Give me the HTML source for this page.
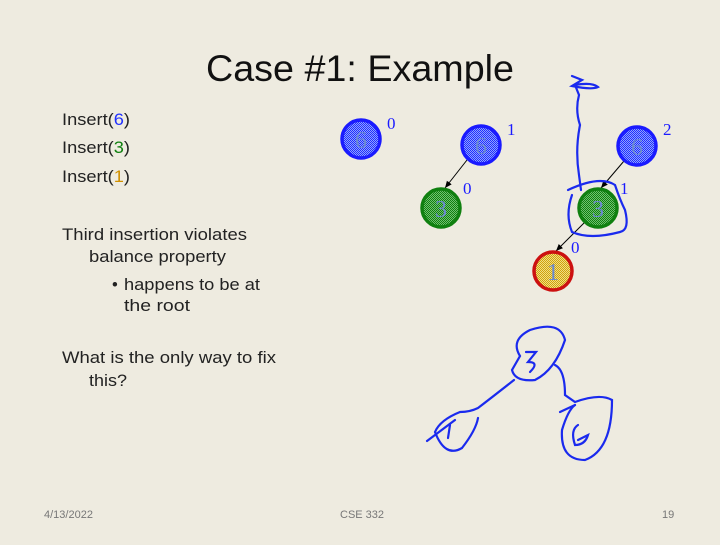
<!DOCTYPE html>
<html><head><style>
body{margin:0;width:720px;height:540px;background:#eeebe0;overflow:hidden;font-family:"Liberation Sans",sans-serif;}
</style></head><body>
<svg width="720" height="540" xmlns="http://www.w3.org/2000/svg">
<defs>
<pattern id="pb" width="2" height="2" patternUnits="userSpaceOnUse"><rect width="2" height="2" fill="#8fa0ff"/><rect width="1" height="1" fill="#2030ff"/><rect x="1" y="1" width="1" height="1" fill="#2030ff"/></pattern>
<pattern id="pg" width="2" height="2" patternUnits="userSpaceOnUse"><rect width="2" height="2" fill="#70c070"/><rect width="1" height="1" fill="#108010"/><rect x="1" y="1" width="1" height="1" fill="#108010"/></pattern>
<pattern id="py" width="2" height="2" patternUnits="userSpaceOnUse"><rect width="2" height="2" fill="#f0e080"/><rect width="1" height="1" fill="#d0a010"/><rect x="1" y="1" width="1" height="1" fill="#d0a010"/></pattern>
<marker id="a" markerWidth="8" markerHeight="8" refX="7" refY="4" orient="auto"><path d="M0,1 L7,4 L0,7 z" fill="#000"/></marker>
</defs>
<rect width="720" height="540" fill="#eeebe0"/>
<text x="360" y="81" font-size="37" text-anchor="middle" fill="#111" textLength="308" lengthAdjust="spacingAndGlyphs">Case #1: Example</text>
<g font-size="16.5" fill="#222">
<text x="62" y="125" textLength="68" lengthAdjust="spacingAndGlyphs">Insert(<tspan fill="#2030ff">6</tspan>)</text>
<text x="62" y="153" textLength="68" lengthAdjust="spacingAndGlyphs">Insert(<tspan fill="#108010">3</tspan>)</text>
<text x="62" y="182" textLength="68" lengthAdjust="spacingAndGlyphs">Insert(<tspan fill="#d09000">1</tspan>)</text>
<text x="62" y="240" textLength="185" lengthAdjust="spacingAndGlyphs">Third insertion violates</text>
<text x="89" y="262" textLength="137" lengthAdjust="spacingAndGlyphs">balance property</text>
<text x="112" y="290">•</text>
<text x="124" y="290" textLength="136" lengthAdjust="spacingAndGlyphs">happens to be at</text>
<text x="124" y="311" textLength="66" lengthAdjust="spacingAndGlyphs">the root</text>
<text x="62" y="363" textLength="214" lengthAdjust="spacingAndGlyphs">What is the only way to fix</text>
<text x="89" y="386" textLength="38" lengthAdjust="spacingAndGlyphs">this?</text>
</g>
<g font-size="11" fill="#777">
<text x="44" y="518">4/13/2022</text>
<text x="340" y="518">CSE 332</text>
<text x="662" y="518">19</text>
</g>
<line x1="467" y1="160" x2="445" y2="188" stroke="#000" marker-end="url(#a)"/>
<line x1="624" y1="161" x2="601" y2="188" stroke="#000" marker-end="url(#a)"/>
<line x1="584" y1="223" x2="556" y2="251" stroke="#000" marker-end="url(#a)"/>
<g stroke-width="3.5">
<circle cx="361" cy="139" r="19" fill="url(#pb)" stroke="#1a1aff"/>
<circle cx="481" cy="145" r="19" fill="url(#pb)" stroke="#1a1aff"/>
<circle cx="441" cy="208" r="19" fill="url(#pg)" stroke="#108010"/>
<circle cx="637" cy="146" r="19" fill="url(#pb)" stroke="#1a1aff"/>
<circle cx="598" cy="208" r="19" fill="url(#pg)" stroke="#108010"/>
<circle cx="553" cy="271" r="19" fill="url(#py)" stroke="#cc1010"/>
</g>
<g font-family="Liberation Serif,serif" font-size="24" text-anchor="middle" fill="#6a8ad0">
<text x="361" y="148">6</text><text x="481" y="154">6</text><text x="441" y="217">3</text>
<text x="637" y="155">6</text><text x="598" y="217">3</text><text x="553" y="280">1</text>
</g>
<g font-family="Liberation Serif,serif" font-size="17" fill="#1a1aff">
<text x="387" y="129">0</text><text x="507" y="135">1</text><text x="463" y="194">0</text>
<text x="663" y="135">2</text><text x="620" y="194">1</text><text x="571" y="253">0</text>
</g>
<g fill="none" stroke="#1a2aee" stroke-width="2.2" stroke-linecap="round">
<path d="M572,76 L582,80 L572,86 Q592,90 598,87 Q592,82 575,85 L579,95 Q575,110 580,125 Q575,150 579,175 L581,190"/>
<path d="M568,190 Q600,175 615,185 Q620,200 625,210 Q630,230 620,232 Q590,240 572,232 Q565,215 572,195"/>
<path d="M520,356 Q510,340 530,330 Q560,320 565,340 Q555,370 535,380 Q515,382 512,370 Z"/>
<path d="M526,352 L536,352 L528,362 Q540,362 530,372"/>
<path d="M514,380 Q495,395 478,408 Q470,412 460,412 Q440,420 435,432 Q445,458 462,448 Q476,430 478,418"/>
<path d="M427,441 L455,420"/>
<path d="M450,425 L448,438"/>
<path d="M555,365 Q565,370 565,395 L575,402 Q600,393 612,400 Q612,450 585,460 Q560,460 562,430 Q568,410 575,405"/>
<path d="M560,412 L575,405"/>
<path d="M578,425 Q570,430 575,445 Q585,445 588,435 L578,440"/>
</g>
</svg>
</body></html>
